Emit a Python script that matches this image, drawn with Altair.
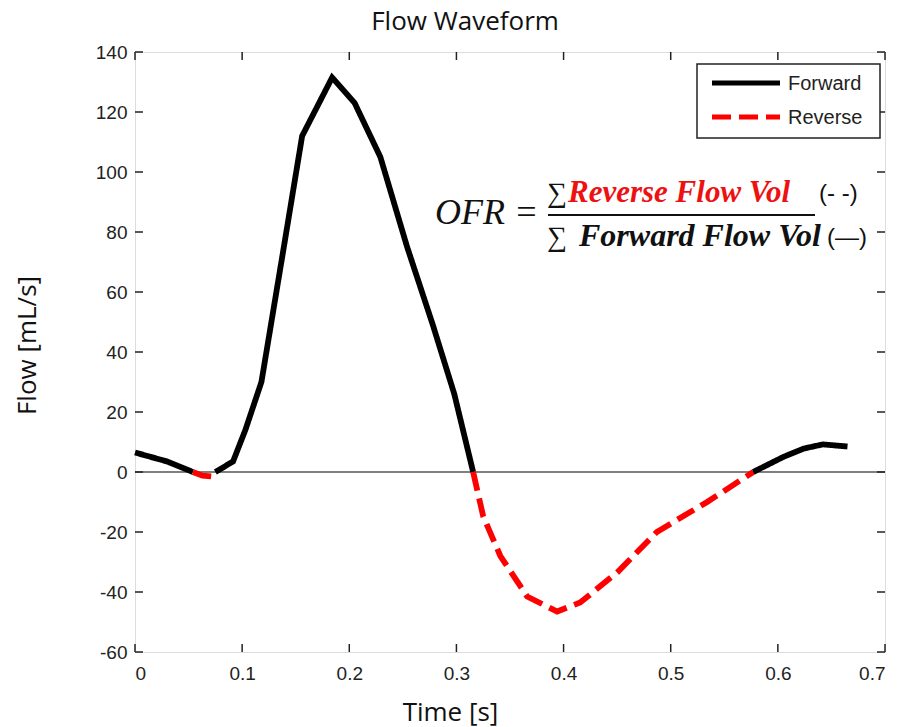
import altair as alt
import pandas as pd

# ---- data ----
fwd1_t = [0.0, 0.03, 0.054]
fwd1_f = [6.5, 3.5, 0.0]
rev1_t = [0.054, 0.063, 0.072, 0.075]
rev1_f = [0.0, -1.2, -1.5, 0.0]
fwd2_t = [0.075, 0.0915, 0.103, 0.118, 0.138, 0.156, 0.184, 0.205, 0.229, 0.254, 0.278, 0.298, 0.3156]
fwd2_f = [0.0, 3.5, 14.0, 30.0, 73.0, 112.0, 131.5, 123.0, 105.0, 75.0, 49.0, 26.0, 0.0]
rev2_t = [0.3156, 0.325, 0.341, 0.366, 0.394, 0.4155, 0.450, 0.487, 0.534, 0.577]
rev2_f = [0.0, -14.8, -28.0, -41.5, -46.5, -43.5, -33.5, -20.0, -10.0, 0.0]
fwd3_t = [0.577, 0.605, 0.624, 0.642, 0.655, 0.665]
fwd3_f = [0.0, 5.0, 7.8, 9.2, 8.8, 8.5]

x_ticks = [0, 0.1, 0.2, 0.3, 0.4, 0.5, 0.6, 0.7]
y_ticks = [-60, -40, -20, 0, 20, 40, 60, 80, 100, 120, 140]

title_text = "Flow Waveform"
x_title = "Time [s]"
y_title = "Flow [mL/s]"
series_names = ["Forward", "Reverse"]
series_colors = ["#000000", "#ff0000"]
formula_lhs = "OFR ="
num_sum = "∑"
num_text = "Reverse Flow Vol"
num_tag = "(- -)"
den_text = "Forward Flow Vol"
den_tag = "(—)"

segments = [
    ("Forward", fwd1_t, fwd1_f),
    ("Reverse", rev1_t, rev1_f),
    ("Forward", fwd2_t, fwd2_f),
    ("Reverse", rev2_t, rev2_f),
    ("Forward", fwd3_t, fwd3_f),
]
rows = []
for i, (d, ts, fs) in enumerate(segments):
    for j, (t, f) in enumerate(zip(ts, fs)):
        rows.append({"t": t, "flow": f, "dir": d, "seg": i, "ord": j})
df = pd.DataFrame(rows)

W, H = 750, 600
DASH = [19, 8]
xs = alt.Scale(domain=[0, 0.7], nice=False, zero=False)
ys = alt.Scale(domain=[-60, 140], nice=False, zero=False)

tick_font = "Liberation Sans Narrow, Liberation Sans, Arial"
title_font = "Open Sans"
minus_fix = "replace(datum.label, '\u2212', '-')"

x_enc = alt.X("t:Q", scale=xs, axis=alt.Axis(
    values=x_ticks, format="~g", title=x_title, domain=False, ticks=False, grid=False,
    labelFont=tick_font, labelFontSize=19, labelColor="#222", labelPadding=12,
    titleFont=title_font, titleFontSize=26, titleFontWeight="normal", titleColor="#111",
    titleX=315, titleY=68, titleBaseline="alphabetic", titleAnchor="middle"))
y_enc = alt.Y("flow:Q", scale=ys, axis=alt.Axis(
    values=y_ticks, title=y_title, domain=False, ticks=False, grid=False,
    labelFont=tick_font, labelFontSize=19, labelColor="#222", labelPadding=8,
    labelExpr=minus_fix,
    titleFont=title_font, titleFontSize=26, titleFontWeight="normal", titleColor="#111",
    titleX=-95, titleY=293, titleAngle=-90, titleBaseline="bottom", titleAnchor="middle"))

lines = alt.Chart(df).mark_line(strokeWidth=5.8, strokeJoin="miter").encode(
    x=x_enc, y=y_enc,
    color=alt.Color("dir:N", scale=alt.Scale(domain=series_names, range=series_colors), legend=None),
    strokeDash=alt.StrokeDash("dir:N", scale=alt.Scale(domain=series_names, range=[[1, 0], DASH]),
                              legend=None),
    detail="seg:N",
    order="ord:Q",
)

zero = alt.Chart(pd.DataFrame({"z": [0]})).mark_rule(color="#000", strokeWidth=1.2).encode(
    y=alt.Y("z:Q", scale=ys), x=alt.value(0), x2=alt.value(W))

xt = pd.DataFrame({"v": x_ticks})
yt = pd.DataFrame({"v": y_ticks})
tick_style = dict(color="#222", strokeWidth=1.5)
xb = alt.Chart(xt).mark_rule(**tick_style).encode(x=alt.X("v:Q", scale=xs), y=alt.value(H), y2=alt.value(H - 8))
xtop = alt.Chart(xt).mark_rule(**tick_style).encode(x=alt.X("v:Q", scale=xs), y=alt.value(0), y2=alt.value(8))
yl = alt.Chart(yt).mark_rule(**tick_style).encode(y=alt.Y("v:Q", scale=ys), x=alt.value(0), x2=alt.value(8))
yr = alt.Chart(yt).mark_rule(**tick_style).encode(y=alt.Y("v:Q", scale=ys), x=alt.value(W), x2=alt.value(W - 8))

one = pd.DataFrame({"a": [0]})
def txt(s, x, y, size, color="#111", style="normal", weight="normal", font="Liberation Serif",
        align="left", baseline="alphabetic"):
    return alt.Chart(one).mark_text(text=s, align=align, baseline=baseline, fontSize=size,
                                    fontStyle=style, fontWeight=weight, font=font, color=color).encode(
        x=alt.value(x), y=alt.value(y))

# title
title = txt(title_text, 330, -22, 26, font=title_font, align="center")

# legend (drawn)
leg_box = alt.Chart(one).mark_rect(fill="white", stroke="#222", strokeWidth=1.5).encode(
    x=alt.value(562), x2=alt.value(745), y=alt.value(12), y2=alt.value(86))
leg_l1 = alt.Chart(one).mark_rule(color=series_colors[0], strokeWidth=5).encode(
    x=alt.value(577), x2=alt.value(645), y=alt.value(31))
leg_l2 = alt.Chart(one).mark_rule(color=series_colors[1], strokeWidth=5, strokeDash=DASH).encode(
    x=alt.value(577), x2=alt.value(645), y=alt.value(65))
leg_t1 = txt(series_names[0], 653, 32, 20, color="#222", font="Liberation Sans", baseline="middle")
leg_t2 = txt(series_names[1], 653, 66, 20, color="#222", font="Liberation Sans", baseline="middle")

# formula annotation
ofr = txt(formula_lhs, 300, 172, 36, style="italic")
bar = alt.Chart(one).mark_rule(color="#111", strokeWidth=2).encode(
    x=alt.value(413), x2=alt.value(680), y=alt.value(163))
n1 = txt(num_sum, 412, 150, 28)
n2 = txt(num_text, 433, 150, 31, color="#ee1111", weight="bold", style="italic")
n3 = txt(num_tag, 684, 149, 24, font="Liberation Sans")
d1 = txt(num_sum, 412, 194, 28)
d2 = txt(den_text, 444, 194, 32, weight="bold", style="italic")
d3 = txt(den_tag, 692, 193, 24, font="Liberation Sans")

chart = alt.layer(zero, lines, xb, xtop, yl, yr, title,
                  leg_box, leg_l1, leg_l2, leg_t1, leg_t2,
                  ofr, bar, n1, n2, n3, d1, d2, d3).properties(
    width=W, height=H,
    autosize=alt.AutoSizeParams(type="none"),
    padding={"left": 135, "top": 52, "right": 16, "bottom": 75},
).configure_view(stroke="#222", strokeWidth=1.5).configure(background="white")

chart.save("out.html", embed_options={"renderer": "svg", "actions": False})
